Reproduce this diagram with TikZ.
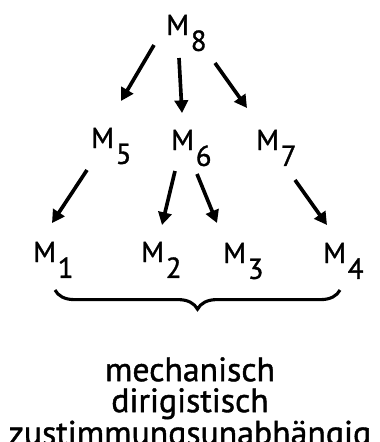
\documentclass[tikz,border=0pt]{standalone}
\usepackage{fontspec}
\setmainfont{PT Sans}[FakeBold=1.2, AutoFakeBold=1.2]
\usetikzlibrary{arrows.meta,decorations.pathreplacing}
\newcommand{\Mk}[1]{M\kern0.06em\raisebox{-0.55em}{#1}}

\begin{document}
\begin{tikzpicture}[x=0.025cm, y=-0.025cm,
        mnode/.style={inner sep=0pt, anchor=base west, font=\fontsize{20.5}{22}\bfseries},
        arr/.style={line width=2.6pt, -{Triangle[length=9pt,width=9.5pt]}},
        every edge/.style={draw, arr}
    ]
        \useasboundingbox (0,0) rectangle (380,442);

        % top
        \node[mnode] (m8) at (166,35) {\Mk{8}};
        % middle row
        \node[mnode] (m5) at (91,148)  {\Mk{5}};
        \node[mnode] (m6) at (171,150) {\Mk{6}};
        \node[mnode] (m7) at (256,150) {\Mk{7}};
        % bottom row
        \node[mnode] (m1) at (33,262)  {\Mk{1}};
        \node[mnode] (m2) at (141,262) {\Mk{2}};
        \node[mnode] (m3) at (223,263) {\Mk{3}};
        \node[mnode] (m4) at (323,263) {\Mk{4}};

        \path
            ([shift={(-12,10)}]m8.base west) edge ([shift={(30,-47)}]m5.base west)
            ([shift={(13,23)}]m8.base west)  edge ([shift={(11,-37)}]m6.base west)
            ([shift={(49,28)}]m8.base west)  edge ([shift={(-9,-42)}]m7.base west)
            ([shift={(-4,22)}]m5.base west)  edge ([shift={(19,-39)}]m1.base west)
            ([shift={(4,21)}]m6.base west)   edge ([shift={(21,-37)}]m2.base west)
            ([shift={(26,24)}]m6.base west)  edge ([shift={(-6,-40)}]m3.base west)
            ([shift={(39,30)}]m7.base west)  edge ([shift={(4,-38)}]m4.base west);

        % brace under the bottom row
        \coordinate (bl) at (55,290);
        \coordinate (br) at (340,290);
        \draw[line width=2.2pt, decorate, decoration={brace, mirror, amplitude=0.48cm}] (bl) -- (br);

        \node[inner sep=0pt, anchor=north, align=center, font=\fontsize{24}{22}\bfseries]
            (txt) at (190,357) {mechanisch\\dirigistisch\\zustimmungsunabhängig};
    \end{tikzpicture}
\end{document}
